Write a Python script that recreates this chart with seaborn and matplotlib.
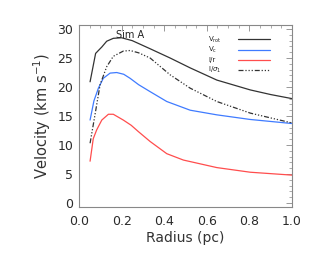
import numpy as np
import pandas as pd
import matplotlib
matplotlib.use("Agg")
import matplotlib.pyplot as plt
import seaborn as sns
from matplotlib.ticker import MultipleLocator, FormatStrFormatter

# Data
r_vrot = [0.052, 0.078, 0.091, 0.107, 0.13, 0.161, 0.20, 0.25, 0.334, 0.428, 0.522, 0.647, 0.804, 0.90, 1.0]
v_rot = [20.9, 25.8, 26.3, 26.9, 27.9, 28.4, 28.5, 28.0, 26.6, 25.0, 23.3, 21.2, 19.5, 18.7, 18.0]

r_vc = [0.052, 0.07, 0.091, 0.114, 0.146, 0.177, 0.21, 0.24, 0.28, 0.334, 0.412, 0.522, 0.647, 0.804, 1.0]
v_c = [14.3, 17.6, 19.8, 21.5, 22.4, 22.5, 22.2, 21.5, 20.4, 19.2, 17.5, 16.0, 15.2, 14.4, 13.7]

r_ir = [0.052, 0.067, 0.083, 0.107, 0.138, 0.161, 0.208, 0.245, 0.279, 0.334, 0.412, 0.49, 0.647, 0.804, 1.0]
v_ir = [7.2, 11.1, 12.6, 14.3, 15.3, 15.3, 14.3, 13.4, 12.3, 10.6, 8.5, 7.4, 6.1, 5.3, 4.8]

r_is = [0.052, 0.075, 0.099, 0.13, 0.161, 0.208, 0.24, 0.28, 0.334, 0.428, 0.522, 0.647, 0.804, 1.0]
v_is = [10.3, 15.2, 20.4, 23.5, 25.3, 26.2, 26.3, 25.9, 25.0, 22.1, 19.8, 17.5, 15.5, 13.8]

labels = [r"V$_{\rm rot}$", r"V$_{\rm c}$", "I/r", r"I/$\sigma_1$"]
colors = ["#333333", "#3f7bff", "#ff4d4d", "#333333"]

sns.set_style("white")
plt.rcParams['font.family'] = ['DejaVu Sans']

fig = plt.figure(figsize=(3.15, 2.58), dpi=100)
ax = fig.add_axes([79/315, 1-207/258, (292-79)/315, (207-25)/258])

series = [(r_vrot, v_rot), (r_vc, v_c), (r_ir, v_ir), (r_is, v_is)]
styles = ["-", "-", "-", (0, (4, 1.5, 1, 1.5, 1, 1.5, 1, 1.5))]
for (x, y), c, ls in zip(series, colors, styles):
    df = pd.DataFrame({"x": x, "y": y})
    sns.lineplot(data=df, x="x", y="y", ax=ax, color=c, lw=0.9, linestyle=ls,
                 sort=True, estimator=None)

ax.set_xlim(0, 1.0)
ax.set_ylim(-0.7, 30.7)
ax.xaxis.set_major_locator(MultipleLocator(0.2))
ax.xaxis.set_minor_locator(MultipleLocator(0.05))
ax.yaxis.set_major_locator(MultipleLocator(5))
ax.yaxis.set_minor_locator(MultipleLocator(1))
ax.xaxis.set_major_formatter(FormatStrFormatter('%.1f'))
ax.tick_params(which='both', direction='in', top=True, right=True, color='#888888')
ax.tick_params(which='major', length=4, width=0.6, labelsize=9, labelcolor='#2a2a2a')
ax.tick_params(axis='x', which='major', pad=6)
ax.tick_params(axis='y', which='major', pad=4)
ax.tick_params(which='minor', length=2, width=0.5)
for s in ax.spines.values():
    s.set_color('#888888')
    s.set_linewidth(0.8)
ax.set_xlabel("Radius (pc)", fontsize=10, color='#333333', labelpad=2)
ax.set_ylabel(r"Velocity (km s$^{-1}$)", fontsize=10.5, color='#333333', labelpad=3)

ax.text(0.174, 28.9, "Sim A", fontsize=7, color='#222222', va='center')

# legend
ys = [28.2, 26.4, 24.6, 22.9]
for yv, c, ls, lab in zip(ys, colors, styles, labels):
    ax.plot([0.748, 0.898], [yv, yv], color=c, lw=0.9, linestyle=ls)
    ax.text(0.606, yv, lab, fontsize=5, color='#222222', va='center')

fig.savefig("out.png", dpi=100)
